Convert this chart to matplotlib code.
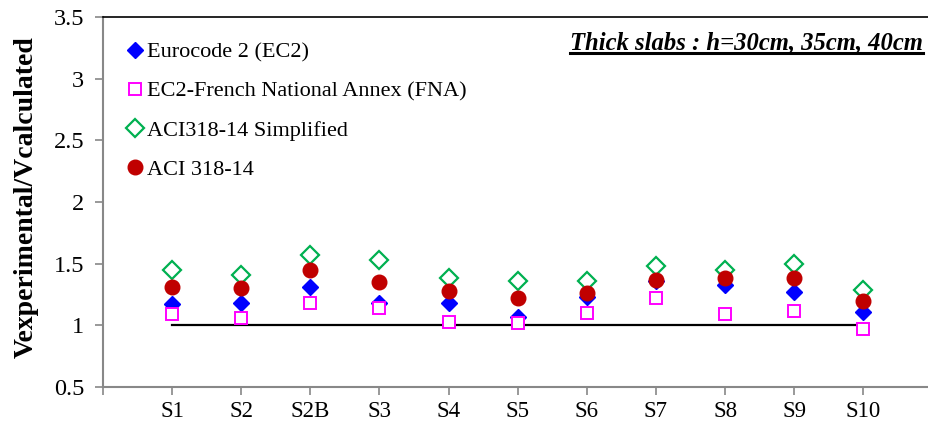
import matplotlib
matplotlib.use('Agg')
import matplotlib.pyplot as plt
import numpy as np

slabs = ['S1', 'S2', 'S2B', 'S3', 'S4', 'S5', 'S6', 'S7', 'S8', 'S9', 'S10']
ec2 = [1.17, 1.18, 1.31, 1.18, 1.18, 1.07, 1.23, 1.36, 1.33, 1.27, 1.11]
ec2_fna = [1.09, 1.06, 1.18, 1.14, 1.03, 1.02, 1.10, 1.22, 1.09, 1.12, 0.97]
aci_simplified = [1.45, 1.41, 1.57, 1.53, 1.38, 1.36, 1.36, 1.48, 1.45, 1.50, 1.29]
aci = [1.31, 1.30, 1.45, 1.35, 1.28, 1.22, 1.26, 1.37, 1.38, 1.38, 1.20]
reference = 1.0

plt.rcParams['font.family'] = ['Liberation Serif', 'DejaVu Serif']
plt.rcParams['font.size'] = 15

fig = plt.figure(figsize=(9.29, 4.28), dpi=100)
ax = fig.add_axes([103 / 929, 41 / 428, 826 / 929, 370 / 428])

x = np.arange(1, len(slabs) + 1)

ax.plot([x[0], x[-1]], [reference, reference], color='black', lw=1.6, zorder=1)
ax.plot(x, ec2, 'D', color='#0000FF', ms=8, label='Eurocode 2 (EC2)', zorder=2)
ax.plot(x, ec2_fna, 's', mfc='white', mec='#FF00FF', mew=1.4, ms=9,
        label='EC2-French National Annex (FNA)', zorder=3)
ax.plot(x, aci_simplified, 'D', mfc='white', mec='#00B050', mew=1.6, ms=9,
        label='ACI318-14 Simplified', zorder=4)
ax.plot(x, aci, 'o', color='#C00000', ms=10.5, label='ACI 318-14', zorder=5)

ax.set_xlim(0, 11.95)
ax.set_ylim(0.5, 3.5)
ax.set_xticks(np.arange(0, 12))
ax.set_xticklabels([''] + slabs)
ax.set_yticks([0.5, 1, 1.5, 2, 2.5, 3, 3.5])
ax.set_yticklabels(['0.5', '1', '1.5', '2', '2.5', '3', '3.5'])
ax.tick_params(axis='both', direction='out', length=6, width=1.2, color='#888888',
               labelsize=16.5)
ax.tick_params(axis='x', pad=4)
ax.tick_params(axis='y', pad=7.5, labelsize=17.5)

for side in ['left', 'bottom']:
    ax.spines[side].set_color('#888888')
    ax.spines[side].set_linewidth(1.5)
ax.spines['right'].set_visible(False)
ax.spines['top'].set_color('black')
ax.spines['top'].set_linewidth(1.2)

ax.set_ylabel('Vexperimental/Vcalculated', fontsize=20, fontweight='bold')
ax.yaxis.set_label_coords(-0.078, 0.513)

ax.legend(loc='upper left', bbox_to_anchor=(0.011, 0.975), frameon=False, fontsize=16,
          handlelength=0.7, handletextpad=0.15, labelspacing=0.84, borderaxespad=0.3,
          numpoints=1)

title = ax.text(0.9925, 0.93, 'Thick slabs : h=30cm, 35cm, 40cm', transform=ax.transAxes,
                ha='right', va='center', fontsize=17.7, fontweight='bold', style='italic')

# underline the annotation
fig.canvas.draw()
bb = title.get_window_extent().transformed(fig.transFigure.inverted())
fig.add_artist(plt.Line2D([bb.x0, bb.x1], [bb.y0 + 0.004, bb.y0 + 0.004],
                          transform=fig.transFigure, color='black', lw=2.2))

plt.savefig('out.png', dpi=100)
